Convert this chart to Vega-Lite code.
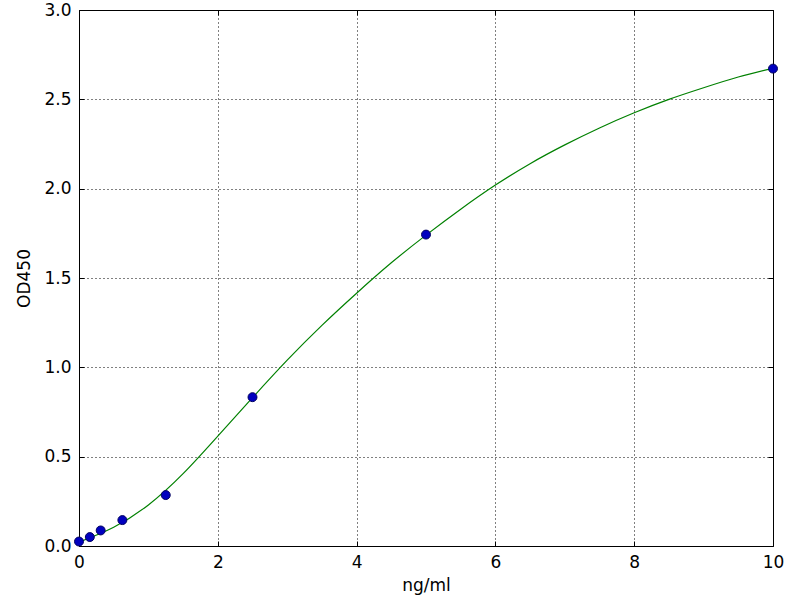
{
  "$schema": "https://vega.github.io/schema/vega-lite/v6.json",
  "width": 694,
  "height": 536,
  "autosize": "none",
  "padding": {"left": 79, "top": 10, "right": 27, "bottom": 54},
  "background": "white",
  "datasets": {
    "curve": [
      {"x": 0, "od": 0.022},
      {"x": 0.5, "od": 0.105},
      {"x": 1, "od": 0.23},
      {"x": 1.5, "od": 0.405},
      {"x": 2, "od": 0.615},
      {"x": 2.5, "od": 0.83},
      {"x": 3, "od": 1.04},
      {"x": 3.5, "od": 1.235},
      {"x": 4, "od": 1.415},
      {"x": 4.5, "od": 1.585},
      {"x": 5, "od": 1.74},
      {"x": 5.5, "od": 1.885},
      {"x": 6, "od": 2.02},
      {"x": 6.5, "od": 2.14},
      {"x": 7, "od": 2.245},
      {"x": 7.5, "od": 2.34},
      {"x": 8, "od": 2.425},
      {"x": 8.5, "od": 2.5},
      {"x": 9, "od": 2.565},
      {"x": 9.5, "od": 2.625},
      {"x": 10, "od": 2.675}
    ],
    "points": [
      {"x": 0, "od": 0.025},
      {"x": 0.156, "od": 0.05},
      {"x": 0.3125, "od": 0.087},
      {"x": 0.625, "od": 0.145},
      {"x": 1.25, "od": 0.285},
      {"x": 2.5, "od": 0.833},
      {"x": 5, "od": 1.743},
      {"x": 10, "od": 2.672}
    ]
  },
  "config": {
    "view": {"stroke": "black", "strokeWidth": 1},
    "axis": {
      "domain": false,
      "labelFont": "DejaVu Sans",
      "labelFontSize": 17,
      "labelColor": "black",
      "labelFlush": false,
      "labelOverlap": false,
      "titleFont": "DejaVu Sans",
      "titleFontSize": 17,
      "titleFontWeight": "normal",
      "titleColor": "black",
      "tickColor": "black",
      "tickSize": -5,
      "tickWidth": 1,
      "labelPadding": 13,
      "grid": true,
      "gridColor": "black",
      "gridDash": [1, 3],
      "gridOpacity": 1,
      "gridWidth": 1
    }
  },
  "layer": [
    {
      "data": {"name": "curve"},
      "mark": {"type": "line", "color": "#008000", "strokeWidth": 1.2, "interpolate": "natural", "clip": true},
      "encoding": {
        "x": {"field": "x", "type": "quantitative", "scale": {"domain": [0, 10], "nice": false, "zero": false},
          "axis": {"title": "ng/ml", "values": [0, 2, 4, 6, 8, 10], "format": "d", "titlePadding": 7}},
        "y": {"field": "od", "type": "quantitative", "scale": {"domain": [0, 3], "nice": false},
          "axis": {"title": "OD450", "values": [0, 0.5, 1, 1.5, 2, 2.5, 3], "format": ".1f", "titlePadding": 10}}
      }
    },
    {
      "data": {"name": "points"},
      "mark": {"type": "point", "filled": true, "shape": "circle", "size": 80, "color": "#0000bf", "stroke": "#000060", "strokeWidth": 1, "opacity": 1, "clip": false},
      "encoding": {
        "x": {"field": "x", "type": "quantitative", "axis": {"orient": "top", "labels": false, "title": null, "grid": false, "values": [0, 2, 4, 6, 8, 10]}},
        "y": {"field": "od", "type": "quantitative", "axis": {"orient": "right", "labels": false, "title": null, "grid": false, "values": [0, 0.5, 1, 1.5, 2, 2.5, 3]}}
      }
    }
  ],
  "resolve": {"axis": {"x": "independent", "y": "independent"}}
}
